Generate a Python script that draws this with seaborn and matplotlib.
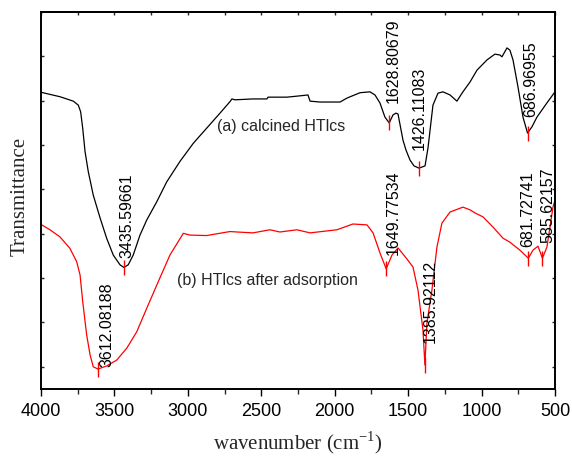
import numpy as np
import pandas as pd
import matplotlib
matplotlib.use("Agg")
import matplotlib.pyplot as plt
import seaborn as sns

# FTIR spectra: wavenumber (cm-1) and transmittance (arbitrary units)
calcined_wn = [4000, 3871, 3780, 3746, 3730, 3716, 3700, 3678, 3644, 3598, 3553,
               3508, 3462, 3435.6, 3406, 3372, 3326, 3280, 3212, 3144, 3054, 2963,
               2872, 2781, 2713, 2700, 2679, 2557, 2461, 2454, 2325, 2236, 2182,
               2168, 2100, 1964, 1916, 1828, 1760, 1726, 1692, 1658, 1628.8, 1603,
               1583, 1569, 1535, 1515, 1487, 1460, 1426.1, 1385, 1365, 1331, 1297,
               1263, 1215, 1168, 1127, 1079, 1031, 963, 909, 875, 861, 827, 807,
               786, 752, 718, 687.0, 657, 623, 555, 500]
calcined_t = [66.9, 65.9, 64.9, 64.0, 62.5, 58.8, 53.5, 49.0, 43.7, 38.6, 34.0,
              30.2, 28.0, 27.4, 28.0, 30.2, 34.7, 38.1, 42.2, 46.7, 51.3, 55.4,
              58.8, 62.2, 64.8, 65.4, 65.2, 65.4, 65.4, 65.8, 65.8, 66.1, 66.3,
              64.9, 64.7, 64.7, 65.6, 66.8, 67.0, 66.3, 64.5, 61.3, 60.0, 61.8,
              62.2, 62.0, 56.1, 53.9, 51.6, 50.3, 49.8, 50.3, 54.3, 64.0, 66.7,
              67.0, 66.3, 64.9, 67.0, 69.2, 71.9, 74.2, 75.5, 75.3, 74.9, 76.9,
              76.4, 74.2, 68.1, 61.3, 57.7, 59.1, 61.3, 64.5, 67.0]

adsorbed_wn = [4000, 3939, 3871, 3803, 3757, 3734, 3716, 3689, 3666, 3644, 3612.1,
               3553, 3485, 3416, 3348, 3280, 3212, 3122, 3031, 2985, 2872, 2713,
               2665, 2557, 2441, 2373, 2257, 2168, 1985, 1876, 1780, 1739, 1692,
               1649.8, 1610, 1569, 1508, 1467, 1433, 1399, 1385.9, 1372, 1338, 1304,
               1270, 1215, 1127, 1079, 1045, 990, 922, 854, 807, 739, 681.7, 650,
               616, 585.6, 555, 534, 514, 500]
adsorbed_t = [37.1, 35.9, 34.3, 31.7, 28.7, 25.7, 19.7, 12.2, 7.7, 5.0, 4.5,
              5.2, 6.5, 9.2, 12.9, 18.2, 23.4, 30.2, 35.1, 34.7, 34.6, 35.5,
              35.4, 35.2, 35.9, 35.4, 35.9, 35.2, 35.9, 37.2, 37.0, 35.2, 30.7,
              27.1, 30.2, 31.8, 29.3, 27.5, 22.3, 13.3, 5.4, 14.9, 22.3, 32.0,
              37.4, 39.9, 41.0, 40.4, 39.7, 38.8, 36.5, 34.0, 33.1, 31.3, 29.5, 31.3,
              32.2, 29.5, 32.0, 36.5, 41.0, 42.6]

# Labelled absorption peaks
calcined_peaks = [3435.59661, 1628.80679, 1426.11083, 686.96955]
adsorbed_peaks = [3612.08188, 1649.77534, 1385.92112, 681.72741, 585.62157]

x_ticks = [4000, 3500, 3000, 2500, 2000, 1500, 1000, 500]

sns.set_theme(style="ticks")
plt.rcParams["font.family"] = ["Liberation Sans", "DejaVu Sans"]
plt.rcParams["mathtext.fontset"] = "custom"
plt.rcParams["mathtext.rm"] = "Liberation Serif"

df = pd.concat([
    pd.DataFrame({"wn": calcined_wn, "T": calcined_t, "sample": "a"}),
    pd.DataFrame({"wn": adsorbed_wn, "T": adsorbed_t, "sample": "b"}),
])

fig = plt.figure(figsize=(5.72, 4.58), dpi=100)
ax = fig.add_axes([41 / 572, 1 - 389 / 458, 514 / 572, 377 / 458])

sns.lineplot(data=df, x="wn", y="T", hue="sample", palette={"a": "black", "b": "red"},
             sort=False, estimator=None, linewidth=0.9, legend=False, ax=ax)

# Peak markers and rotated wavenumber labels
def mark_peaks(wn_list, t_list, peaks, offsets):
    for p, (dx, dy) in zip(peaks, offsets):
        t = np.interp(p, wn_list[::-1], t_list[::-1])
        ax.vlines(p, t - 1.7, t + 1.7, color="red", linewidth=1.0)
        ax.annotate(f"{p:.5f}", xy=(p, t), xytext=(dx, dy), textcoords="offset points",
                    rotation=90, ha="center", va="bottom", fontsize=11.5, color="black")

mark_peaks(calcined_wn, calcined_t, calcined_peaks,
           [(2.2, 7), (3, 14), (0, 13), (2, 11.5)])
mark_peaks(adsorbed_wn, adsorbed_t, adsorbed_peaks,
           [(6.5, 1.5), (5, 10), (3.6, 16), (-0.7, 8), (4, 11)])

ax.text(2802, 59.1, "(a) calcined HTlcs", fontsize=11.5, ha="left", va="center")
ax.text(3074, 24.4, "(b) HTlcs after adsorption", fontsize=11.5, ha="left", va="center")

ax.set_xlim(4000, 500)
ax.set_ylim(0, 85)
ax.set_xticks(x_ticks)
ax.set_xticklabels([str(v) for v in x_ticks], fontsize=13)
ax.set_xticks(np.arange(3750, 500, -500), minor=True)
ax.set_yticks(np.arange(5, 85, 10))
ax.set_yticklabels([])

ax.tick_params(axis="x", which="major", direction="out", length=5, width=1.0,
               pad=5, top=False, colors="black")
ax.tick_params(axis="x", which="minor", direction="out", length=3.6, width=1.0, top=False)
ax.tick_params(axis="y", direction="in", length=2.5, width=1.0, left=True, right=True)

# Inward ticks along the top edge every 250 cm-1
top = ax.secondary_xaxis("top")
top.set_xticks(np.arange(4000, 499, -250))
top.set_xticklabels([])
top.tick_params(direction="in", length=2.5, width=1.0)
top.spines["top"].set_linewidth(1.4)

for s in ax.spines.values():
    s.set_linewidth(1.4)
    s.set_color("black")
    s.set_visible(True)

ax.set_xlabel("wavenumber (cm$^{-1}$)", family=["Liberation Serif", "DejaVu Serif"], fontsize=15)
ax.set_ylabel("Transmittance", family=["Liberation Serif", "DejaVu Serif"], fontsize=15)
ax.xaxis.set_label_coords(0.5, -0.106)
ax.yaxis.set_label_coords(-0.022, 0.51)

fig.savefig("out.png", dpi=100)
